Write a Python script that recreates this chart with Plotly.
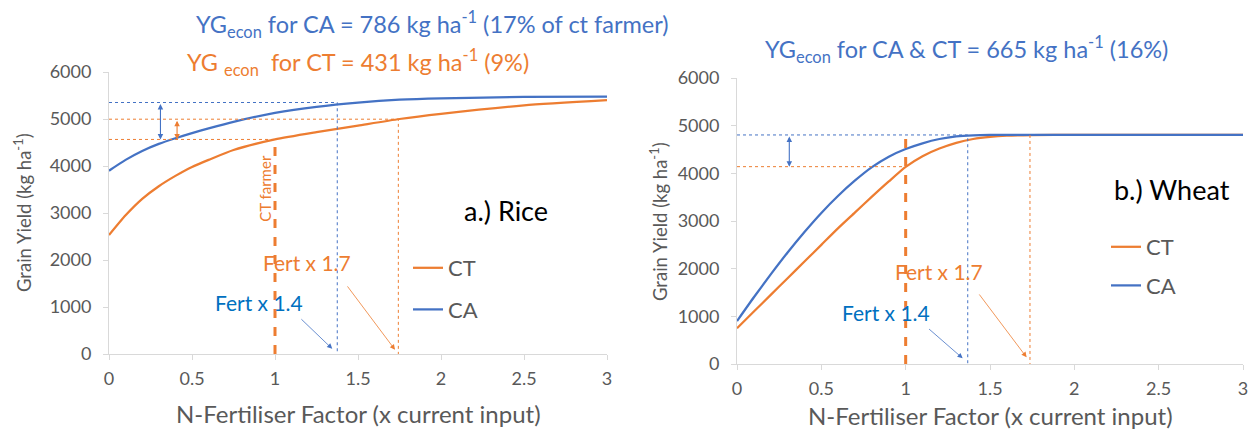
import plotly.graph_objects as go

# ---------------- data ----------------
n_factor = [0, 0.1, 0.2, 0.3, 0.4, 0.5, 0.6, 0.75, 1.0, 1.25, 1.5, 1.75, 2.0, 2.5, 3.0]
rice_ct = [2530, 2950, 3300, 3570, 3790, 3980, 4130, 4340, 4565, 4720, 4860, 5000, 5110, 5290, 5400]
rice_ca = [3900, 4130, 4320, 4470, 4590, 4700, 4800, 4940, 5130, 5260, 5350, 5410, 5440, 5470, 5478]

w_factor = [0, 0.1, 0.2, 0.3, 0.4, 0.5, 0.6, 0.7, 0.8, 0.9, 1.0, 1.1, 1.2, 1.3, 1.4, 1.5, 1.6, 1.75, 2.0, 2.5, 3.0]
wheat_ct = [750, 1100, 1450, 1800, 2150, 2500, 2850, 3180, 3510, 3830, 4135, 4360, 4520, 4640, 4720, 4765, 4790, 4803, 4805, 4805, 4805]
wheat_ca = [900, 1400, 1880, 2340, 2770, 3170, 3530, 3850, 4130, 4350, 4510, 4630, 4720, 4775, 4798, 4805, 4805, 4805, 4805, 4805, 4805]

# farmer practice (CT at current input) and economic yield gaps
rice_farmer = 4565
rice_gap_ca = 786
rice_gap_ct = 431
wheat_farmer = 4140
wheat_gap = 665

# economically optimal fertiliser factors
rice_opt_ca, rice_opt_ct = 1.375, 1.743
wheat_opt_ca, wheat_opt_ct = 1.368, 1.737

x_ticks = [0, 0.5, 1, 1.5, 2, 2.5, 3]
x_tick_text = ["0", "0.5", "1", "1.5", "2", "2.5", "3"]
y_ticks = [0, 1000, 2000, 3000, 4000, 5000, 6000]

ORANGE = "#ED7D31"
BLUE = "#4472C4"
BLUE_TXT = "#0070C0"
GREY = "#595959"
AXIS = "#D9D9D9"
FONT = "Lato, 'Open Sans', sans-serif"

W, H = 1255, 435


def px(x):
    return x / W


def py(y):
    return 1 - y / H


fig = go.Figure()

# ---------------- curves ----------------
for xa, ya, xs, ct, ca, leg in [
    ("x", "y", n_factor, rice_ct, rice_ca, "legend"),
    ("x2", "y2", w_factor, wheat_ct, wheat_ca, "legend2"),
]:
    fig.add_trace(go.Scatter(x=xs, y=ct, mode="lines", name="CT", xaxis=xa, yaxis=ya,
                             line=dict(color=ORANGE, width=2.25, shape="spline", smoothing=0.6),
                             legend=leg, legendgroup=leg + "ct"))
    fig.add_trace(go.Scatter(x=xs, y=ca, mode="lines", name="CA", xaxis=xa, yaxis=ya,
                             line=dict(color=BLUE, width=2.25, shape="spline", smoothing=0.6),
                             legend=leg, legendgroup=leg + "ca"))


def guide(xs, ys, color, xa, ya, dash="dot", width=1):
    fig.add_trace(go.Scatter(x=xs, y=ys, mode="lines", xaxis=xa, yaxis=ya, showlegend=False,
                             hoverinfo="skip", line=dict(color=color, width=width, dash=dash)))


# ---------------- rice guides ----------------
r_ca_lvl = rice_farmer + rice_gap_ca
r_ct_lvl = rice_farmer + rice_gap_ct
guide([0, rice_opt_ca, rice_opt_ca], [r_ca_lvl, r_ca_lvl, 0], BLUE, "x", "y")
guide([0, rice_opt_ct, rice_opt_ct], [r_ct_lvl, r_ct_lvl, 0], ORANGE, "x", "y")
guide([0, 1], [rice_farmer, rice_farmer], ORANGE, "x", "y")
guide([1, 1], [0, rice_farmer], ORANGE, "x", "y", dash="dash", width=3)

# ---------------- wheat guides ----------------
w_lvl = wheat_farmer + wheat_gap
guide([0, wheat_opt_ca, wheat_opt_ca], [w_lvl, w_lvl, 0], BLUE, "x2", "y2")
guide([wheat_opt_ct, wheat_opt_ct], [w_lvl, 0], ORANGE, "x2", "y2")
guide([0, 1], [wheat_farmer, wheat_farmer], ORANGE, "x2", "y2")
guide([1, 1], [0, 4750], ORANGE, "x2", "y2", dash="dash", width=3)

ann = []


def gap_arrow(xa, ya, xv, y_top, y_bot, color):
    ann.append(dict(xref=xa, yref=ya, axref=xa, ayref=ya, x=xv, y=y_bot, ax=xv, ay=y_top,
                    showarrow=True, arrowhead=2, arrowsize=1, arrowwidth=1.1,
                    arrowside="end+start", arrowcolor=color, text=""))


gap_arrow("x", "y", 0.31, r_ca_lvl, rice_farmer, BLUE)
gap_arrow("x", "y", 0.41, r_ct_lvl, rice_farmer, ORANGE)
gap_arrow("x2", "y2", 0.31, w_lvl, wheat_farmer, BLUE)


def pointer(xa, ya, x_tail, y_tail, x_head, y_head, color):
    ann.append(dict(xref=xa, yref=ya, axref=xa, ayref=ya, x=x_head, y=y_head, ax=x_tail, ay=y_tail,
                    showarrow=True, arrowhead=2, arrowsize=1.3, arrowwidth=0.8,
                    arrowcolor=color, text=""))


pointer("x", "y", 1.15, 770, rice_opt_ca - 0.03, 110, BLUE)
pointer("x", "y", 1.43, 1470, rice_opt_ct - 0.02, 90, ORANGE)
pointer("x2", "y2", 1.13, 760, wheat_opt_ca - 0.03, 120, BLUE)
pointer("x2", "y2", 1.43, 1490, wheat_opt_ct - 0.02, 140, ORANGE)


def label(xa, ya, x, y, text, color, size, angle=0):
    ann.append(dict(xref=xa, yref=ya, x=x, y=y, text=text, showarrow=False,
                    xanchor="center", yanchor="middle",
                    textangle=angle, font=dict(family=FONT, size=size, color=color)))


label("x", "y", 1.19, 1940, "Fert x 1.7", ORANGE, 21)
label("x", "y", 0.905, 1100, "Fert x 1.4", BLUE_TXT, 21)
label("x", "y", 0.935, 3520, "CT farmer", ORANGE, 15, angle=-90)
label("x", "y", 2.39, 3060, "a.) Rice", "#000000", 27)
label("x2", "y2", 1.20, 1950, "Fert x 1.7", ORANGE, 21)
label("x2", "y2", 0.885, 1090, "Fert x 1.4", BLUE_TXT, 21)
label("x2", "y2", 2.58, 3655, "b.) Wheat", "#000000", 27)

# titles
label("paper", "paper", px(432), py(24),
      f"YG<sub>econ</sub> for CA = {rice_gap_ca} kg ha<sup>-1</sup> (17% of ct farmer)", BLUE, 23.5)
label("paper", "paper", px(358), py(62),
      f"YG <sub>econ</sub>  for CT = {rice_gap_ct} kg ha<sup>-1</sup> (9%)", ORANGE, 23.5)
label("paper", "paper", px(966), py(50),
      f"YG<sub>econ</sub> for CA &amp; CT = {wheat_gap} kg ha<sup>-1</sup> (16%)", BLUE, 23.5)

# axis titles
label("paper", "paper", px(22), py(213), "Grain Yield (kg ha<sup>-1</sup>)", GREY, 18.5, angle=-90)
label("paper", "paper", px(658), py(222), "Grain Yield (kg ha<sup>-1</sup>)", GREY, 18.5, angle=-90)
label("paper", "paper", px(358), py(413), "N-Fertiliser Factor (x current input)", GREY, 24)
label("paper", "paper", px(990), py(415), "N-Fertiliser Factor (x current input)", GREY, 24)

axis_common = dict(showgrid=False, zeroline=False, showline=True, linecolor=AXIS, linewidth=1,
                   ticks="outside", ticklen=5, tickcolor=AXIS, tickwidth=1, automargin=False,
                   tickfont=dict(family=FONT, size=18, color=GREY))

fig.update_layout(
    width=W, height=H,
    margin=dict(l=0, r=0, t=0, b=0, pad=0, autoexpand=False),
    paper_bgcolor="white", plot_bgcolor="white",
    font=dict(family=FONT),
    xaxis=dict(domain=[px(109), px(607)], range=[0, 3], anchor="y", tickvals=x_ticks,
               ticktext=x_tick_text, ticklabelstandoff=3, **axis_common),
    yaxis=dict(domain=[py(354), py(72)], range=[0, 6000], anchor="x", tickvals=y_ticks,
               ticklabelstandoff=8, **axis_common),
    xaxis2=dict(domain=[px(737), px(1243)], range=[0, 3], anchor="y2", tickvals=x_ticks,
                ticktext=x_tick_text, ticklabelstandoff=3, **axis_common),
    yaxis2=dict(domain=[py(364), py(78)], range=[0, 6000], anchor="x2", tickvals=y_ticks,
                ticklabelstandoff=8, **axis_common),
    legend=dict(x=px(408), y=py(247), xanchor="left", yanchor="top", bgcolor="rgba(0,0,0,0)",
                font=dict(family=FONT, size=22, color=GREY), tracegroupgap=10, itemwidth=30),
    legend2=dict(x=px(1106), y=py(226), xanchor="left", yanchor="top", bgcolor="rgba(0,0,0,0)",
                 font=dict(family=FONT, size=22, color=GREY), tracegroupgap=7, itemwidth=30),
    annotations=ann,
    showlegend=True,
)

fig.write_html("out.html")
